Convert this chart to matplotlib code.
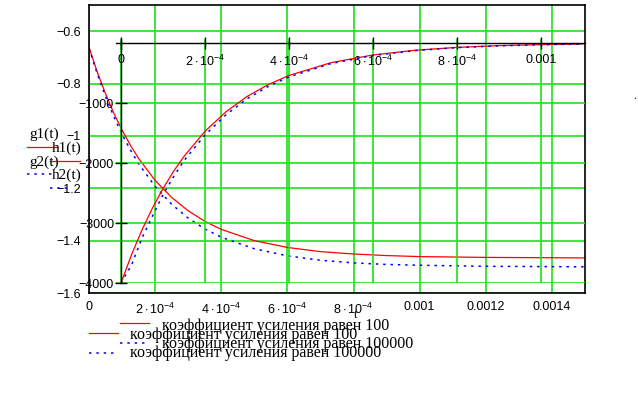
import matplotlib
matplotlib.use("Agg")
import matplotlib.pyplot as plt
from matplotlib.lines import Line2D

plt.rcParams["mathtext.fontset"] = "custom"
plt.rcParams["mathtext.rm"] = "Liberation Sans"
plt.rcParams["mathtext.it"] = "Liberation Sans:italic"

# outer plot: g1, g2 (time in s)
t_out = [0, 0.25e-4, 0.5e-4, 0.75e-4, 1.0e-4, 1.25e-4, 1.5e-4, 2.0e-4, 2.5e-4, 3.0e-4,
         3.5e-4, 4.0e-4, 5.0e-4, 6.0e-4, 7.0e-4, 8.0e-4, 9.0e-4, 1.0e-3, 1.2e-3, 1.5e-3]
g1 = [-0.661, -0.756, -0.839, -0.913, -0.978, -1.035, -1.086, -1.170, -1.235, -1.286,
      -1.326, -1.357, -1.400, -1.426, -1.442, -1.451, -1.457, -1.461, -1.464, -1.466]
g2 = [-0.665, -0.763, -0.850, -0.926, -0.994, -1.053, -1.106, -1.193, -1.261, -1.314,
      -1.355, -1.387, -1.431, -1.458, -1.475, -1.485, -1.491, -1.494, -1.498, -1.500]

# inner plot: h1, h2
t_in = [0, 0.25e-4, 0.5e-4, 0.75e-4, 1.0e-4, 1.25e-4, 1.5e-4, 2.0e-4, 2.5e-4, 3.0e-4,
        3.5e-4, 4.0e-4, 5.0e-4, 6.0e-4, 7.0e-4, 8.0e-4, 9.0e-4, 1.0e-3, 1.1e-3]
h1 = [-4000, -3530, -3115, -2749, -2426, -2141, -1890, -1472, -1146, -892,
      -695, -541, -328, -199, -121, -73, -44, -27, -16]
h2 = [-4000, -3700, -3250, -2883, -2530, -2230, -1960, -1533, -1195, -930,
      -725, -565, -343, -208, -127, -77, -47, -29, -17]

out_xticks = [0, 2e-4, 4e-4, 6e-4, 8e-4, 1e-3, 1.2e-3, 1.4e-3]
out_xlabels = ["0", r"$2\cdot10^{-4}$", r"$4\cdot10^{-4}$", r"$6\cdot10^{-4}$",
               r"$8\cdot10^{-4}$", "0.001", "0.0012", "0.0014"]
out_yticks = [-0.6, -0.8, -1.0, -1.2, -1.4, -1.6]
out_ylabels = ["\u22120.6", "\u22120.8", "\u22121", "\u22121.2", "\u22121.4", "\u22121.6"]

in_xticks = [0, 2e-4, 4e-4, 6e-4, 8e-4, 1e-3]
in_xlabels = ["0", r"$2\cdot10^{-4}$", r"$4\cdot10^{-4}$", r"$6\cdot10^{-4}$",
              r"$8\cdot10^{-4}$", "0.001"]
in_yticks = [-4000, -3000, -2000, -1000]
in_ylabels = ["\u22124000", "\u22123000", "\u22122000", "\u22121000"]

legend_text = ["коэффициент усиления равен 100", "коэффициент усиления равен 100",
               "коэффициент усиления равен 100000", "коэффициент усиления равен 100000"]

W, H = 639, 398
GREEN = "#1ee01e"
RED = "#ff0000"
BLUE = "#0000ff"
DOT = (0, (1.6, 3.2))
SANS = "Liberation Sans"
SERIF = "Liberation Serif"

fig = plt.figure(figsize=(W / 100, H / 100), dpi=100)


def fx(x):
    return x / W


def fy(y):
    return 1 - y / H


# outer axes
ax = fig.add_axes([fx(89), fy(293), fx(585) - fx(89), fy(5) - fy(293)])
ax.set_xlim(0, 0.0015)
ax.set_ylim(-1.6, -0.5)
ax.set_xticks(out_xticks)
ax.set_xticklabels(out_xlabels, fontfamily=SANS)
ax.set_yticks(out_yticks)
ax.set_yticklabels(out_ylabels, fontfamily=SANS)
ax.tick_params(length=0, labelsize=9, pad=6)
ax.grid(color=GREEN, lw=1.2)
for s in ax.spines.values():
    s.set_linewidth(1.2)
ax.plot(t_out, g1, color=RED, lw=0.9)
ax.plot(t_out, g2, color=BLUE, lw=1.1, ls=DOT)

# inner axes (crossed at zero)
ax2 = fig.add_axes([fx(116), fy(283), fx(585) - fx(116), fy(39) - fy(283)], facecolor="none")
ax2.set_xlim(-1.19e-5, 1.1048e-3)
ax2.set_ylim(-4000, 66.7)
ax2.spines["left"].set_position(("data", 0))
ax2.spines["bottom"].set_position(("data", 0))
ax2.spines["top"].set_visible(False)
ax2.spines["right"].set_visible(False)
ax2.spines["left"].set_linewidth(1.0)
ax2.spines["bottom"].set_linewidth(1.0)
ax2.set_xticks(in_xticks)
ax2.set_xticklabels(in_xlabels, fontfamily=SANS)
ax2.set_yticks(in_yticks)
ax2.set_yticklabels(in_ylabels, fontfamily=SANS)
ax2.tick_params(direction="inout", length=8, width=1.0, labelsize=9)
ax2.tick_params(axis="x", pad=4)
ax2.tick_params(axis="y", pad=1)
ax2.grid(color=GREEN, lw=1.2)
ax2.plot(t_in, h1, color=RED, lw=0.9)
ax2.plot(t_in, h2, color=BLUE, lw=1.1, ls=DOT)

# y-axis labels with line samples (Mathcad style)
fig.text(fx(29), fy(138), "g1(t)", fontfamily=SERIF, fontsize=11, va="baseline")
fig.text(fx(52), fy(152), "h1(t)", fontfamily=SERIF, fontsize=11, va="baseline")
fig.text(fx(29), fy(166), "g2(t)", fontfamily=SERIF, fontsize=11, va="baseline")
fig.text(fx(52), fy(179), "h2(t)", fontfamily=SERIF, fontsize=11, va="baseline")
fig.add_artist(Line2D([fx(27), fx(57)], [fy(147), fy(147)], color=RED, lw=0.9))
fig.add_artist(Line2D([fx(50), fx(80)], [fy(161), fy(161)], color=RED, lw=0.9))
fig.add_artist(Line2D([fx(27), fx(55)], [fy(174), fy(174)], color=BLUE, lw=1.1, ls=DOT))
fig.add_artist(Line2D([fx(50), fx(70)], [fy(188), fy(188)], color=BLUE, lw=1.1, ls=DOT))

# bottom legend
rows = [(120, 149, 323, 162, 330, RED, "-"),
        (89, 118, 333, 130, 339, RED, "-"),
        (120, 147, 343, 162, 348, BLUE, DOT),
        (89, 115, 353, 130, 357, BLUE, DOT)]
for (x0, x1, ly, tx, ty, c, ls), txt in zip(rows, legend_text):
    fig.add_artist(Line2D([fx(x0), fx(x1)], [fy(ly), fy(ly)], color=c,
                          lw=0.9 if ls == "-" else 1.1, ls=ls))
    fig.text(fx(tx), fy(ty), txt, fontfamily=SERIF, fontsize=11.5, va="baseline")

fig.text(fx(356), fy(318), "t", fontfamily=SERIF, fontsize=9, ha="center", va="baseline")
fig.text(fx(635), fy(99), ".", fontfamily=SERIF, fontsize=8, ha="center", va="baseline")

fig.savefig("out.png", dpi=100)
